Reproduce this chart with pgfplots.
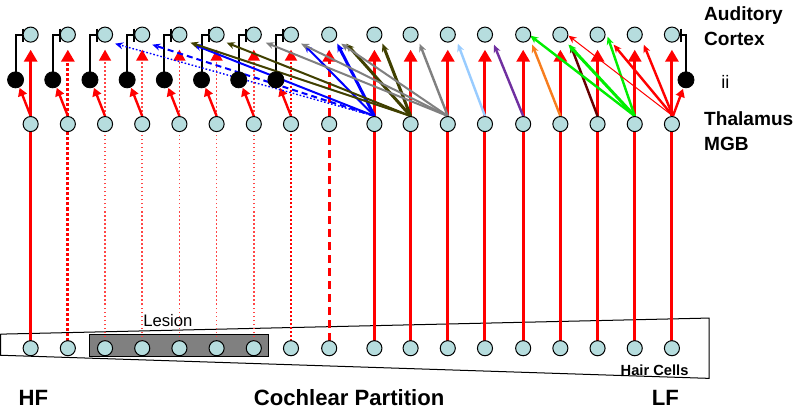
\documentclass[border=0pt]{standalone}
\usepackage{pgfplots}
\pgfplotsset{compat=1.18}
\usepackage{fontspec}
\setmainfont{Liberation Sans}
\usetikzlibrary{arrows.meta}
\definecolor{cellfill}{RGB}{182,221,222}
\definecolor{lesiongray}{RGB}{128,128,128}
\definecolor{olivedark}{RGB}{64,64,0}
\definecolor{arrgray}{RGB}{128,128,128}
\definecolor{lightblue}{RGB}{153,204,255}
\definecolor{purp}{RGB}{112,48,160}
\definecolor{orng}{RGB}{247,125,30}
\definecolor{maroon}{RGB}{102,0,0}
\definecolor{grn}{RGB}{0,238,0}
\definecolor{pinkred}{RGB}{255,70,70}
\tikzset{
  bighead/.style={-{Triangle[length=6pt,width=6.5pt]}},
  smallhead/.style={-{Triangle[length=5.5pt,width=6pt,color=red]}},
  thinhead/.style={-{Stealth[length=4pt,width=3.5pt]}},
}
\begin{document}
\begin{tikzpicture}
\begin{axis}[
    width=400pt, height=204.5pt, scale only axis,
    xmin=0, xmax=800, ymin=0, ymax=409,
    y dir=reverse, hide axis, clip=false,
    every axis plot/.append style={no markers},
    unbounded coords=jump]

% cochlea outline and lesion
\addplot[draw=black, fill=white, line width=0.5pt] coordinates {(8,331) (713,315) (713,375) (8,352) (8,331)};
\addplot[draw=black, fill=lesiongray, line width=0.5pt] coordinates {(97,331) (275,331) (275,353) (97,353) (97,331)};

% hair cell -> thalamus
\addplot[red, line width=1.5pt] coordinates {(38,338) (38,122) (nan,nan) (380,338) (380,122) (nan,nan) (416,338) (416,122) (nan,nan) (453,338) (453,122) (nan,nan) (490,338) (490,122) (nan,nan) (528,338) (528,122) (nan,nan) (565,338) (565,122) (nan,nan) (602,338) (602,122) (nan,nan) (639,338) (639,122) (nan,nan) (676,338) (676,122)};
\addplot[red, line width=1.5pt, dash pattern=on 1.5pt off 1pt] coordinates {(75,338) (75,122)};
\addplot[color=pinkred, line width=0.75pt, dash pattern=on 0.75pt off 1.25pt] coordinates {(112,338) (112,122) (nan,nan) (149,338) (149,122) (nan,nan) (186,338) (186,122) (nan,nan) (223,338) (223,122) (nan,nan) (260,338) (260,122)};
\addplot[red, line width=1pt, dash pattern=on 1pt off 1pt] coordinates {(297,338) (297,122)};
\addplot[red, line width=1.5pt, dash pattern=on 4pt off 2.5pt] coordinates {(335,338) (335,122)};

% thalamus -> cortex, same column
\addplot[red, line width=1.5pt, bighead, quiver={u=0,v=-66}] coordinates {(38,114) (380,114) (416,114) (453,114) (490,114) (528,114) (565,114) (602,114) (639,114) (676,114)};
\addplot[red, line width=1.5pt, dash pattern=on 1.5pt off 1pt, bighead, quiver={u=0,v=-66}] coordinates {(75,114)};
\addplot[color=pinkred, line width=0.75pt, dash pattern=on 0.75pt off 1.25pt, smallhead, quiver={u=0,v=-66}] coordinates {(112,114) (149,114) (186,114) (223,114) (260,114)};
\addplot[red, line width=1pt, dash pattern=on 1pt off 1pt, smallhead, quiver={u=0,v=-66}] coordinates {(297,114)};
\addplot[red, line width=1.5pt, dash pattern=on 4pt off 2.5pt, bighead, quiver={u=0,v=-66}] coordinates {(335,114)};

% thalamus -> interneurons
\addplot[red, line width=1.2pt, -{Triangle[length=4pt,width=4.5pt]}, quiver={u=-11,v=-28}] coordinates {(38,114) (75,114) (112,114) (149,114) (186,114) (223,114) (260,114) (297,114)};
\addplot[red, line width=1.2pt, -{Triangle[length=4pt,width=4.5pt]}, quiver={u=10,v=-27}] coordinates {(677,114)};

% interneuron -> cortex inhibitory links
\addplot[black, line width=1pt] coordinates {
 (23,78) (23,33) (30,33) (nan,nan) (30,27) (30,40) (nan,nan)
 (60,78) (60,33) (67,33) (nan,nan) (67,27) (67,40) (nan,nan)
 (97,78) (97,33) (104,33) (nan,nan) (104,27) (104,40) (nan,nan)
 (134,78) (134,33) (141,33) (nan,nan) (141,27) (141,40) (nan,nan)
 (171,78) (171,33) (178,33) (nan,nan) (178,27) (178,40) (nan,nan)
 (208,78) (208,33) (215,33) (nan,nan) (215,27) (215,40) (nan,nan)
 (245,78) (245,33) (252,33) (nan,nan) (252,27) (252,40) (nan,nan)
 (282,78) (282,33) (289,33) (nan,nan) (289,27) (289,40) (nan,nan)
 (690,78) (690,33) (685,33) (nan,nan) (685,27) (685,40)};

% divergent thalamocortical projections
\addplot[blue, line width=0.7pt, dash pattern=on 0.8pt off 1pt, thinhead] coordinates {(380,114) (122,42)};
\addplot[blue, line width=1pt, dash pattern=on 3pt off 2pt, thinhead] coordinates {(380,114) (159,43)};
\addplot[blue, line width=1pt, thinhead] coordinates {(380,114) (200,43)};
\addplot[blue, line width=1pt, thinhead] coordinates {(380,114) (310,43)};
\addplot[blue, line width=1.5pt, thinhead] coordinates {(380,114) (343,42)};
\addplot[olivedark, line width=0.5pt, dash pattern=on 0.6pt off 1pt] coordinates {(416,114) (205,44)};
\addplot[olivedark, line width=1pt, thinhead] coordinates {(416,114) (197,41)};
\addplot[olivedark, line width=1pt, thinhead] coordinates {(416,114) (233,41)};
\addplot[olivedark, line width=1.5pt, thinhead] coordinates {(416,114) (352,42)};
\addplot[olivedark, line width=1.5pt, thinhead] coordinates {(416,114) (388,42)};
\addplot[arrgray, line width=1pt, thinhead] coordinates {(453,114) (272,41)};
\addplot[arrgray, line width=1pt, thinhead] coordinates {(453,114) (307,42)};
\addplot[arrgray, line width=1pt, thinhead] coordinates {(453,114) (347,42)};
\addplot[arrgray, line width=1.2pt, thinhead] coordinates {(453,114) (425,42)};
\addplot[lightblue, line width=1.2pt, thinhead] coordinates {(490,114) (463,42)};
\addplot[purp, line width=1.2pt, thinhead] coordinates {(528,114) (499,43)};
\addplot[orng, line width=1.2pt, thinhead] coordinates {(565,114) (537,43)};
\addplot[maroon, line width=1.2pt, thinhead] coordinates {(602,114) (575,43)};
\addplot[grn, line width=1.2pt, thinhead] coordinates {(639,114) (535,34)};
\addplot[grn, line width=1.5pt, thinhead] coordinates {(639,114) (573,43)};
\addplot[grn, line width=1.2pt, thinhead] coordinates {(639,114) (612,35)};
\addplot[red, line width=0.5pt, thinhead] coordinates {(677,114) (573,34)};
\addplot[red, line width=1.2pt, thinhead] coordinates {(677,114) (618,43)};
\addplot[red, line width=1.2pt, thinhead] coordinates {(677,114) (648,43)};

% neurons
\addplot[only marks, mark=*, mark size=3.75pt, mark options={fill=cellfill, draw=black, line width=0.5pt}] table {
x y
38 33
75 33
112 33
149 33
186 33
223 33
260 33
297 33
335 33
380 33
416 33
453 33
490 33
528 33
565 33
602 33
639 33
676 33
38 122
75 122
112 122
149 122
186 122
223 122
260 122
297 122
335 122
380 122
416 122
453 122
490 122
528 122
565 122
602 122
639 122
676 122
38 345
75 345
112 345
149 345
186 345
223 345
260 345
297 345
335 345
380 345
416 345
453 345
490 345
528 345
565 345
602 345
639 345
676 345
};
\addplot[only marks, mark=*, mark size=4pt, mark options={fill=black, draw=black}] coordinates {
(23,78) (60,78) (97,78) (134,78) (171,78) (208,78) (245,78) (282,78) (690,78)};

% labels
\node[anchor=base west, font=\fontsize{9.5}{11}\selectfont\bfseries] at (axis cs:701,19) {Auditory};
\node[anchor=base west, font=\fontsize{9.5}{11}\selectfont\bfseries] at (axis cs:701,44) {Cortex};
\node[anchor=base west, font=\fontsize{9}{11}\selectfont] at (axis cs:718,87) {ii};
\node[anchor=base west, font=\fontsize{9.5}{11}\selectfont\bfseries] at (axis cs:701,123) {Thalamus};
\node[anchor=base west, font=\fontsize{9.5}{11}\selectfont\bfseries] at (axis cs:701,148) {MGB};
\node[anchor=base west, font=\fontsize{8.3}{10}\selectfont] at (axis cs:143,323) {Lesion};
\node[anchor=base west, font=\fontsize{7.3}{9}\selectfont\bfseries] at (axis cs:618,372) {Hair Cells};
\node[anchor=base west, font=\fontsize{11}{13}\selectfont\bfseries] at (axis cs:19,402) {HF};
\node[anchor=base west, font=\fontsize{11}{13}\selectfont\bfseries] at (axis cs:253,402) {Cochlear Partition};
\node[anchor=base west, font=\fontsize{11}{13}\selectfont\bfseries] at (axis cs:649,402) {LF};
\end{axis}
\end{tikzpicture}
\end{document}
